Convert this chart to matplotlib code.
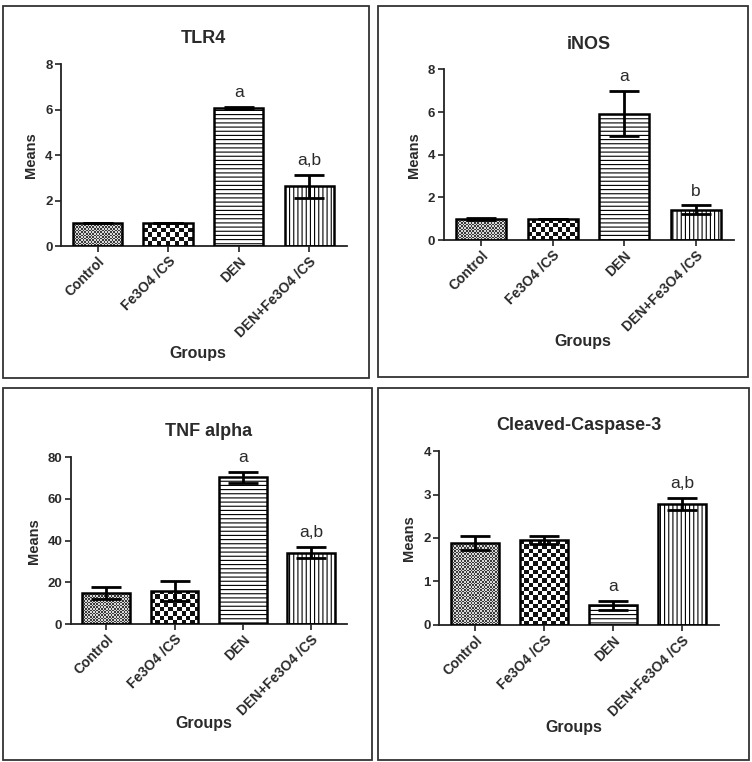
import numpy as np
import matplotlib
matplotlib.use("Agg")
import matplotlib.pyplot as plt
from matplotlib.colors import ListedColormap
from matplotlib.patches import Rectangle

plt.rcParams['font.family'] = ['Liberation Sans', 'DejaVu Sans']
plt.rcParams['hatch.linewidth'] = 0.8
plt.rcParams['hatch.color'] = '#7a7a7a'

groups = ["Control", "Fe3O4 /CS", "DEN", "DEN+Fe3O4 /CS"]

tlr4_mean = [1.0, 1.0, 6.06, 2.63]
tlr4_err = [0.0, 0.0, 0.05, 0.5]
tlr4_sig = ["", "", "a", "a,b"]

inos_mean = [0.98, 0.98, 5.93, 1.42]
inos_err = [0.05, 0.0, 1.05, 0.2]
inos_sig = ["", "", "a", "b"]

tnf_mean = [15.0, 16.0, 70.3, 34.2]
tnf_err = [2.9, 4.8, 2.8, 2.7]
tnf_sig = ["", "", "a", "a,b"]

casp_mean = [1.89, 1.95, 0.45, 2.79]
casp_err = [0.16, 0.1, 0.11, 0.14]
casp_sig = ["", "", "a", "a,b"]

panels = [
    ("TLR4", tlr4_mean, tlr4_err, tlr4_sig, 8, [0, 2, 4, 6, 8],
     [0.081, 0.677, 0.380, 0.239], (3, 6, 369, 378)),
    ("iNOS", inos_mean, inos_err, inos_sig, 8, [0, 2, 4, 6, 8],
     [0.590, 0.685, 0.386, 0.224], (378, 6, 748, 377)),
    ("TNF alpha", tnf_mean, tnf_err, tnf_sig, 80, [0, 20, 40, 60, 80],
     [0.094, 0.181, 0.368, 0.219], (3, 388, 372, 760)),
    ("Cleaved-Caspase-3", casp_mean, casp_err, casp_sig, 4, [0, 1, 2, 3, 4],
     [0.584, 0.180, 0.372, 0.228], (378, 388, 749, 760)),
]

TXT = '#2a2a2a'
W, H = 752, 762
fig = plt.figure(figsize=(7.52, 7.62), dpi=100)
fig.patch.set_facecolor('white')


def checker_fill(ax, bar, cell_px, dark, light):
    x0, y0 = bar.get_x(), bar.get_y()
    w, h = bar.get_width(), bar.get_height()
    (px0, py0), (px1, py1) = ax.transData.transform([(x0, y0), (x0 + w, y0 + h)])
    nx = max(1, int(round((px1 - px0) / cell_px)))
    ny = max(1, int(round((py1 - py0) / cell_px)))
    arr = np.add.outer(np.arange(ny), np.arange(nx)) % 2
    im = ax.imshow(arr, cmap=ListedColormap([light, dark]), extent=(x0, x0 + w, y0, y0 + h),
                   aspect='auto', interpolation='nearest', origin='lower', zorder=2)
    im.set_clip_path(bar)


for title, means, errs, sigs, ymax, yticks, pos, box in panels:
    # panel frame
    bx0, by0, bx1, by1 = box
    fig.patches.append(Rectangle((bx0 / W, 1 - by1 / H), (bx1 - bx0) / W, (by1 - by0) / H,
                                 transform=fig.transFigure, fill=False,
                                 edgecolor='#333333', lw=1.3, zorder=0))

    ax = fig.add_axes(pos)
    x = np.arange(len(groups))
    ax.set_xlim(-0.52, 3.53)
    ax.set_ylim(0, ymax)

    bars = ax.bar(x, means, width=0.7, facecolor='none', edgecolor='black', lw=1.8, zorder=3)
    bars[2].set_hatch('----')
    bars[3].set_hatch('||||')
    checker_fill(ax, bars[0], 1.6, '#3a3a3a', '#d8d8d8')
    checker_fill(ax, bars[1], 4.3, '#111111', 'white')
    ax.set_xlim(-0.52, 3.53)
    ax.set_ylim(0, ymax)

    ax.errorbar(x, means, yerr=errs, fmt='none', ecolor='black', elinewidth=2.0,
                capsize=11, capthick=2.0, zorder=4)

    for xi, m, e, s in zip(x, means, errs, sigs):
        if s:
            ax.annotate(s, (xi, m + e), xytext=(0, 5), textcoords='offset points',
                        ha='center', va='bottom', fontsize=12.5, color=TXT)

    for side in ['top', 'right']:
        ax.spines[side].set_visible(False)
    for side in ['left', 'bottom']:
        ax.spines[side].set_linewidth(1.3)
        ax.spines[side].set_color('#222222')

    ax.set_yticks(yticks)
    ax.set_yticklabels([str(t) for t in yticks], fontsize=9.5, fontweight='bold', color=TXT)
    ax.set_xticks(x)
    ax.set_xticklabels(groups, rotation=45, ha='right', va='top', rotation_mode='anchor',
                       fontsize=10, fontweight='bold', color=TXT)
    ax.tick_params(axis='both', length=4, width=1.2, color='#222222', pad=2)
    ax.tick_params(axis='x', pad=2)

    ax.set_title(title, fontsize=13, fontweight='bold', color=TXT, pad=15)
    ax.set_ylabel("Means", fontsize=10.5, fontweight='bold', color=TXT, labelpad=5)
    ax.set_xlabel("Groups", fontsize=11.5, fontweight='bold', color=TXT)
    ax.xaxis.set_label_coords(0.48, -0.55)

fig.savefig("out.png", dpi=100, facecolor='white')
